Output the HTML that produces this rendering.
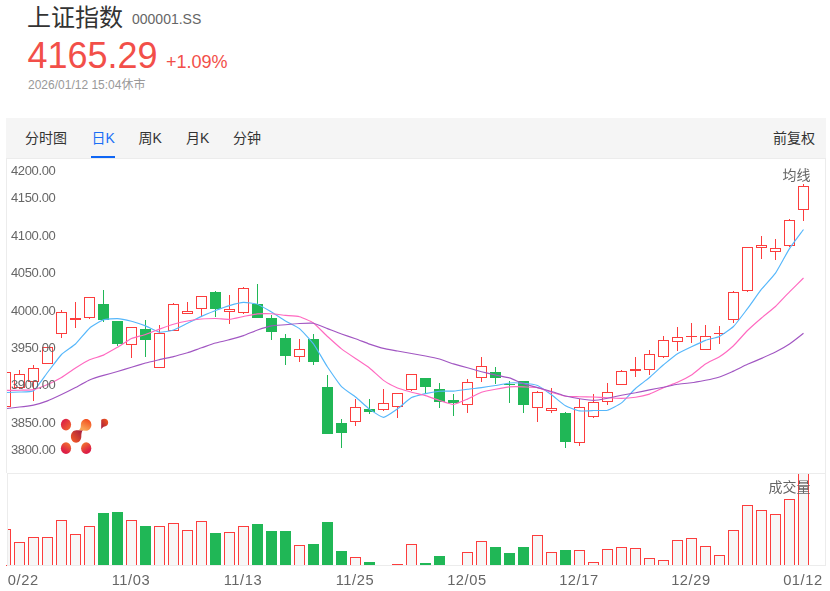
<!DOCTYPE html>
<html lang="zh-CN">
<head>
<meta charset="utf-8">
<title>上证指数 000001.SS</title>
<style>
html,body{margin:0;padding:0;background:#fff;}
body{width:830px;height:591px;position:relative;overflow:hidden;font-family:"Liberation Sans","Noto Sans CJK SC",sans-serif;color:#333;}
.abs{position:absolute;white-space:nowrap;line-height:1;}
.name{left:27px;top:6px;font-size:24px;color:#333;}
.code{left:132px;top:11.5px;font-size:14px;color:#666;}
.price{left:27.5px;top:38px;font-size:36px;color:#f24f49;}
.chg{left:166px;top:52.7px;font-size:18px;color:#f24f49;}
.time{left:28px;top:79px;font-size:12px;color:#999;}
.tabs{position:absolute;left:6px;top:118px;width:820px;height:40px;background:#f5f5f5;}
.tab{position:absolute;top:0;height:40px;line-height:40px;font-size:14px;color:#333;white-space:nowrap;}
.tab.on{color:#1a6ff5;}
.tab.on:after{content:"";position:absolute;left:-1px;right:0;bottom:0;height:2px;background:#0f66f5;}
svg{position:absolute;left:0;top:0;will-change:transform;}
svg text{font-family:"Liberation Sans","Noto Sans CJK SC",sans-serif;}
</style>
</head>
<body>
<div class="abs name">上证指数</div>
<div class="abs code">000001.SS</div>
<div class="abs price">4165.29</div>
<div class="abs chg">+1.09%</div>
<div class="abs time">2026/01/12 15:04休市</div>
<div class="tabs">
<span class="tab" style="left:19px">分时图</span>
<span class="tab on" style="left:85.5px">日K</span>
<span class="tab" style="left:132.5px">周K</span>
<span class="tab" style="left:180px">月K</span>
<span class="tab" style="left:227px">分钟</span>
<span class="tab" style="right:11px">前复权</span>
</div>
<svg width="830" height="591" viewBox="0 0 830 591">
<defs>
<clipPath id="ck"><rect x="7" y="159" width="819" height="314"/></clipPath>
<clipPath id="cv"><rect x="8" y="474" width="817" height="91"/></clipPath>
<clipPath id="cd"><rect x="8" y="566" width="822" height="25"/></clipPath>
<linearGradient id="g1" x1="0" y1="0" x2="1" y2="1"><stop offset="0.15" stop-color="#dd1f46"/><stop offset="1" stop-color="#f2702e"/></linearGradient>
<linearGradient id="g2" x1="0.75" y1="0" x2="0.2" y2="1"><stop offset="0" stop-color="#f2481c"/><stop offset="0.8" stop-color="#f9a254"/></linearGradient>
<linearGradient id="g3" x1="1" y1="0" x2="0.1" y2="0.9"><stop offset="0.1" stop-color="#a81e3c"/><stop offset="1" stop-color="#f25a26"/></linearGradient>
<linearGradient id="g4" x1="0.8" y1="0" x2="0.3" y2="1"><stop offset="0" stop-color="#f2742e"/><stop offset="0.8" stop-color="#dd1f46"/></linearGradient>
<linearGradient id="g5" x1="0.1" y1="0" x2="0.7" y2="1"><stop offset="0" stop-color="#f4802e"/><stop offset="0.8" stop-color="#dd1f46"/></linearGradient>
<linearGradient id="g6" x1="1" y1="0" x2="0" y2="1"><stop offset="0.1" stop-color="#f2561e"/><stop offset="0.9" stop-color="#a81e3c"/></linearGradient>
</defs>
<!-- frames -->
<path d="M6.5 158V473M6 158.5H826M825.5 158V566M7 473.5H826M7.5 473V566M7 565.5H826" stroke="#ececec" fill="none"/>
<!-- watermark -->
<g>
<ellipse cx="66" cy="424.6" rx="5.1" ry="5.8" fill="url(#g1)"/>
<path d="M70.9 436.6c0-3.500 2.200-6.400 5.400-6.400c2.800 0 4.600 0.300 6.700-0.100c-1.500 1.700-1.700 3.900-1.700 6.500c0 3.400-2.300 6.200-5.200 6.200s-5.200-2.800-5.200-6.200z" fill="url(#g3)"/>
<path d="M91.4 424.8c0 3.300-2.300 6-5.300 6c-2.800 0-5.200-0.600-7.600-0.400c2-1.300 2.400-3.200 2.400-5.600c0-3.300 2.300-5.900 5.200-5.900s5.300 2.600 5.300 5.900z" fill="url(#g2)"/>
<ellipse cx="66" cy="448.2" rx="5.1" ry="5.9" fill="url(#g4)"/>
<ellipse cx="86.2" cy="448.2" rx="5.1" ry="5.9" fill="url(#g5)"/>
<path d="M101.2 419.800c0.900-0.600 2.100-1 3.300-1c2.100 0 3.700 1.700 3.700 3.800s-1.500 3.700-3.500 3.800c-1.500 0.100-2.500 1.300-3.500 2.900z" fill="url(#g6)"/>
</g>
<g clip-path="url(#ck)" fill="none" stroke-width="1">
<rect x="0.5" y="372.5" width="10" height="34" fill="none" stroke="#fc3d3d" stroke-width="1"/>
<path d="M19.5 370V374M19.5 388V389" stroke="#fc3d3d" stroke-width="1"/>
<rect x="14.5" y="374.5" width="10" height="13" fill="none" stroke="#fc3d3d" stroke-width="1"/>
<path d="M33.5 365V368M33.5 382V401" stroke="#fc3d3d" stroke-width="1"/>
<rect x="28.5" y="368.5" width="10" height="13" fill="none" stroke="#fc3d3d" stroke-width="1"/>
<rect x="42.5" y="347.5" width="10" height="16" fill="none" stroke="#fc3d3d" stroke-width="1"/>
<path d="M61.5 310V312M61.5 334V338" stroke="#fc3d3d" stroke-width="1"/>
<rect x="56.5" y="312.5" width="10" height="21" fill="none" stroke="#fc3d3d" stroke-width="1"/>
<path d="M75.5 302V328" stroke="#fc3d3d" stroke-width="1"/>
<rect x="70" y="318" width="11" height="2" fill="#fc3d3d"/>
<path d="M89.5 318V319" stroke="#fc3d3d" stroke-width="1"/>
<rect x="84.5" y="297.5" width="10" height="20" fill="none" stroke="#fc3d3d" stroke-width="1"/>
<path d="M103.5 290V322" stroke="#20b756" stroke-width="1"/>
<rect x="98" y="304" width="11" height="16" fill="#20b756"/>
<path d="M117.5 321V346" stroke="#20b756" stroke-width="1"/>
<rect x="112" y="321" width="11" height="23" fill="#20b756"/>
<path d="M131.5 345V358" stroke="#fc3d3d" stroke-width="1"/>
<rect x="126.5" y="327.5" width="10" height="17" fill="none" stroke="#fc3d3d" stroke-width="1"/>
<path d="M145.5 320V357" stroke="#20b756" stroke-width="1"/>
<rect x="140" y="329" width="11" height="11" fill="#20b756"/>
<path d="M159.5 325V333" stroke="#fc3d3d" stroke-width="1"/>
<rect x="154.5" y="333.5" width="10" height="34" fill="none" stroke="#fc3d3d" stroke-width="1"/>
<path d="M173.5 303V304" stroke="#fc3d3d" stroke-width="1"/>
<rect x="168.5" y="304.5" width="10" height="26" fill="none" stroke="#fc3d3d" stroke-width="1"/>
<path d="M187.5 302V311" stroke="#fc3d3d" stroke-width="1"/>
<rect x="182.5" y="311.5" width="10" height="2" fill="none" stroke="#fc3d3d" stroke-width="1"/>
<path d="M201.5 309V316" stroke="#fc3d3d" stroke-width="1"/>
<rect x="196.5" y="296.5" width="10" height="12" fill="none" stroke="#fc3d3d" stroke-width="1"/>
<path d="M215.5 291V317" stroke="#20b756" stroke-width="1"/>
<rect x="210" y="292" width="11" height="17" fill="#20b756"/>
<path d="M229.5 295V309M229.5 312V324" stroke="#fc3d3d" stroke-width="1"/>
<rect x="224.5" y="309.5" width="10" height="2" fill="none" stroke="#fc3d3d" stroke-width="1"/>
<path d="M243.5 287V288M243.5 313V314" stroke="#fc3d3d" stroke-width="1"/>
<rect x="238.5" y="288.5" width="10" height="24" fill="none" stroke="#fc3d3d" stroke-width="1"/>
<path d="M257.5 284V318" stroke="#20b756" stroke-width="1"/>
<rect x="252" y="304" width="11" height="14" fill="#20b756"/>
<path d="M271.5 315V340" stroke="#20b756" stroke-width="1"/>
<rect x="266" y="318" width="11" height="14" fill="#20b756"/>
<path d="M285.5 334V365" stroke="#20b756" stroke-width="1"/>
<rect x="280" y="338" width="11" height="18" fill="#20b756"/>
<path d="M299.5 339V349M299.5 357V362" stroke="#fc3d3d" stroke-width="1"/>
<rect x="294.5" y="349.5" width="10" height="7" fill="none" stroke="#fc3d3d" stroke-width="1"/>
<path d="M313.5 334V365" stroke="#20b756" stroke-width="1"/>
<rect x="308" y="339" width="11" height="23" fill="#20b756"/>
<path d="M327.5 375V434" stroke="#20b756" stroke-width="1"/>
<rect x="322" y="387" width="11" height="47" fill="#20b756"/>
<path d="M341.5 419V448" stroke="#20b756" stroke-width="1"/>
<rect x="336" y="423" width="11" height="10" fill="#20b756"/>
<path d="M355.5 399V407M355.5 422V426" stroke="#fc3d3d" stroke-width="1"/>
<rect x="350.5" y="407.5" width="10" height="14" fill="none" stroke="#fc3d3d" stroke-width="1"/>
<path d="M369.5 399V414" stroke="#20b756" stroke-width="1"/>
<rect x="364" y="409" width="11" height="3" fill="#20b756"/>
<path d="M383.5 389V403M383.5 410V411" stroke="#fc3d3d" stroke-width="1"/>
<rect x="378.5" y="403.5" width="10" height="6" fill="none" stroke="#fc3d3d" stroke-width="1"/>
<path d="M397.5 407V418" stroke="#fc3d3d" stroke-width="1"/>
<rect x="392.5" y="393.5" width="10" height="13" fill="none" stroke="#fc3d3d" stroke-width="1"/>
<path d="M411.5 390V391" stroke="#fc3d3d" stroke-width="1"/>
<rect x="406.5" y="374.5" width="10" height="15" fill="none" stroke="#fc3d3d" stroke-width="1"/>
<path d="M425.5 378V394" stroke="#20b756" stroke-width="1"/>
<rect x="420" y="378" width="11" height="9" fill="#20b756"/>
<path d="M439.5 383V408" stroke="#20b756" stroke-width="1"/>
<rect x="434" y="389" width="11" height="13" fill="#20b756"/>
<path d="M453.5 394V416" stroke="#20b756" stroke-width="1"/>
<rect x="448" y="400" width="11" height="3" fill="#20b756"/>
<path d="M467.5 379V382M467.5 405V413" stroke="#fc3d3d" stroke-width="1"/>
<rect x="462.5" y="382.5" width="10" height="22" fill="none" stroke="#fc3d3d" stroke-width="1"/>
<path d="M481.5 357V366M481.5 378V382" stroke="#fc3d3d" stroke-width="1"/>
<rect x="476.5" y="366.5" width="10" height="11" fill="none" stroke="#fc3d3d" stroke-width="1"/>
<path d="M495.5 367V384" stroke="#20b756" stroke-width="1"/>
<rect x="490" y="372" width="11" height="6" fill="#20b756"/>
<path d="M509.5 381V403" stroke="#20b756" stroke-width="1"/>
<rect x="504" y="384" width="11" height="1" fill="#20b756"/>
<path d="M523.5 381V413" stroke="#20b756" stroke-width="1"/>
<rect x="518" y="381" width="11" height="24" fill="#20b756"/>
<path d="M537.5 391V392M537.5 408V422" stroke="#fc3d3d" stroke-width="1"/>
<rect x="532.5" y="392.5" width="10" height="15" fill="none" stroke="#fc3d3d" stroke-width="1"/>
<path d="M551.5 388V408M551.5 411V413" stroke="#fc3d3d" stroke-width="1"/>
<rect x="546.5" y="408.5" width="10" height="2" fill="none" stroke="#fc3d3d" stroke-width="1"/>
<path d="M565.5 412V448" stroke="#20b756" stroke-width="1"/>
<rect x="560" y="413" width="11" height="29" fill="#20b756"/>
<path d="M579.5 399V407M579.5 443V446" stroke="#fc3d3d" stroke-width="1"/>
<rect x="574.5" y="407.5" width="10" height="35" fill="none" stroke="#fc3d3d" stroke-width="1"/>
<path d="M593.5 394V402M593.5 417V418" stroke="#fc3d3d" stroke-width="1"/>
<rect x="588.5" y="402.5" width="10" height="14" fill="none" stroke="#fc3d3d" stroke-width="1"/>
<path d="M607.5 383V392M607.5 402V405" stroke="#fc3d3d" stroke-width="1"/>
<rect x="602.5" y="392.5" width="10" height="9" fill="none" stroke="#fc3d3d" stroke-width="1"/>
<path d="M621.5 370V371" stroke="#fc3d3d" stroke-width="1"/>
<rect x="616.5" y="371.5" width="10" height="13" fill="none" stroke="#fc3d3d" stroke-width="1"/>
<path d="M635.5 357V377" stroke="#fc3d3d" stroke-width="1"/>
<rect x="630" y="369" width="11" height="2" fill="#fc3d3d"/>
<path d="M649.5 350V354M649.5 370V375" stroke="#fc3d3d" stroke-width="1"/>
<rect x="644.5" y="354.5" width="10" height="15" fill="none" stroke="#fc3d3d" stroke-width="1"/>
<path d="M663.5 336V340M663.5 357V358" stroke="#fc3d3d" stroke-width="1"/>
<rect x="658.5" y="340.5" width="10" height="16" fill="none" stroke="#fc3d3d" stroke-width="1"/>
<path d="M677.5 327V337M677.5 342V351" stroke="#fc3d3d" stroke-width="1"/>
<rect x="672.5" y="337.5" width="10" height="4" fill="none" stroke="#fc3d3d" stroke-width="1"/>
<path d="M691.5 323V343" stroke="#fc3d3d" stroke-width="1"/>
<rect x="686" y="336" width="11" height="1" fill="#fc3d3d"/>
<path d="M705.5 325V336" stroke="#fc3d3d" stroke-width="1"/>
<rect x="700.5" y="336.5" width="10" height="13" fill="none" stroke="#fc3d3d" stroke-width="1"/>
<path d="M719.5 326V344" stroke="#fc3d3d" stroke-width="1"/>
<rect x="714" y="333" width="11" height="1" fill="#fc3d3d"/>
<path d="M733.5 291V292M733.5 320V323" stroke="#fc3d3d" stroke-width="1"/>
<rect x="728.5" y="292.5" width="10" height="27" fill="none" stroke="#fc3d3d" stroke-width="1"/>
<path d="M747.5 291V292" stroke="#fc3d3d" stroke-width="1"/>
<rect x="742.5" y="247.5" width="10" height="43" fill="none" stroke="#fc3d3d" stroke-width="1"/>
<path d="M761.5 236V245M761.5 248V259" stroke="#fc3d3d" stroke-width="1"/>
<rect x="756.5" y="245.5" width="10" height="2" fill="none" stroke="#fc3d3d" stroke-width="1"/>
<path d="M775.5 239V248M775.5 252V260" stroke="#fc3d3d" stroke-width="1"/>
<rect x="770.5" y="248.5" width="10" height="3" fill="none" stroke="#fc3d3d" stroke-width="1"/>
<path d="M789.5 219V220M789.5 246V247" stroke="#fc3d3d" stroke-width="1"/>
<rect x="784.5" y="220.5" width="10" height="25" fill="none" stroke="#fc3d3d" stroke-width="1"/>
<path d="M803.5 184V186M803.5 210V221" stroke="#fc3d3d" stroke-width="1"/>
<rect x="798.5" y="186.5" width="10" height="23" fill="none" stroke="#fc3d3d" stroke-width="1"/>
<path d="M7 392.5C7.9 392.5 17.6 392.1 19.5 392C21.4 391.9 31.4 392.2 33.5 390.8C35.6 389.4 45.4 375.2 47.5 372.5C49.6 369.8 59.4 356.6 61.5 354.5C63.6 352.4 73.4 345.9 75.5 344C77.6 342.1 87.4 330 89.5 328.2C91.6 326.4 101.4 320.5 103.5 319.8C105.6 319.1 115.4 318.5 117.5 318.6C119.6 318.7 129.4 320.7 131.5 321.2C133.6 321.7 143.4 325.1 145.5 325.9C147.6 326.7 157.4 331.9 159.5 332.2C161.6 332.5 171.4 330.7 173.5 330C175.6 329.3 185.4 324.2 187.5 323.2C189.6 322.2 199.4 317.3 201.5 316.4C203.6 315.5 213.4 311.3 215.5 310.5C217.6 309.7 227.4 306.2 229.5 305.6C231.6 305 241.4 302.5 243.5 302.4C245.6 302.3 255.4 303.5 257.5 304.2C259.6 304.9 269.4 310.8 271.5 312C273.6 313.2 283.4 319.8 285.5 321C287.6 322.2 297.4 326.9 299.5 328.6C301.6 330.3 311.4 341 313.5 343.8C315.6 346.6 325.4 363.9 327.5 367C329.6 370.1 339.4 384.4 341.5 386.6C343.6 388.8 353.4 395.4 355.5 397C357.6 398.6 367.4 407.6 369.5 409.1C371.6 410.6 381.4 417.3 383.5 417.3C385.6 417.3 395.4 410.2 397.5 408.8C399.6 407.4 409.4 398.7 411.5 397.6C413.6 396.5 423.4 394.1 425.5 393.6C427.6 393.1 437.4 391.4 439.5 391.2C441.6 391 451.4 391.2 453.5 391.1C455.6 391 465.4 389.6 467.5 389.3C469.6 389 479.4 387.9 481.5 387.6C483.6 387.3 493.4 385.8 495.5 385.5C497.6 385.2 507.4 383.2 509.5 383C511.6 382.8 521.4 383.1 523.5 383.3C525.6 383.5 535.4 384.7 537.5 385.5C539.6 386.3 549.4 393.3 551.5 394.8C553.6 396.3 563.4 404.6 565.5 405.8C567.6 407 577.4 410.6 579.5 410.9C581.6 411.2 591.4 410.6 593.5 410.5C595.6 410.4 605.4 410.8 607.5 410.2C609.6 409.6 619.4 404.5 621.5 402.9C623.6 401.3 633.4 390.4 635.5 388.5C637.6 386.6 647.4 379.2 649.5 377.5C651.6 375.8 661.4 366.5 663.5 364.8C665.6 363.1 675.4 355.1 677.5 353.8C679.6 352.5 689.4 347.8 691.5 346.8C693.6 345.8 703.4 341.2 705.5 340.4C707.6 339.6 717.4 337.4 719.5 336.4C721.6 335.4 731.4 328.5 733.5 326.5C735.6 324.5 745.4 311.4 747.5 308.7C749.6 306 759.4 291.8 761.5 289.2C763.6 286.6 773.4 276.1 775.5 273.1C777.6 270.1 787.4 251.8 789.5 248.6C791.6 245.4 802.5 230.9 803.5 229.5" fill="none" stroke="#56b7fb" stroke-width="1.15" stroke-linejoin="round"/>
<path d="M7 390.4C7.9 390.4 17.6 390.3 19.5 390.2C21.4 390.1 31.4 390 33.5 389.6C35.6 389.2 45.4 385.4 47.5 384.5C49.6 383.6 59.4 378.7 61.5 377.5C63.6 376.3 73.4 369.3 75.5 368C77.6 366.7 87.4 360.7 89.5 359.8C91.6 358.9 101.4 356 103.5 355.1C105.6 354.2 115.4 348.5 117.5 347.3C119.6 346.1 129.4 339.4 131.5 338.5C133.6 337.6 143.4 335.2 145.5 334.5C147.6 333.8 157.4 329.9 159.5 329.1C161.6 328.3 171.4 324.8 173.5 324.2C175.6 323.6 185.4 321.4 187.5 321C189.6 320.6 199.4 319.2 201.5 319C203.6 318.8 213.4 318.5 215.5 318.5C217.6 318.5 227.4 319.4 229.5 319.3C231.6 319.2 241.4 316.9 243.5 316.5C245.6 316.1 255.4 314.1 257.5 313.9C259.6 313.7 269.4 313.6 271.5 313.7C273.6 313.8 283.4 315.2 285.5 315.4C287.6 315.6 297.4 316.1 299.5 316.7C301.6 317.3 311.4 321.5 313.5 323C315.6 324.5 325.4 334.6 327.5 336.5C329.6 338.4 339.4 347.3 341.5 348.9C343.6 350.5 353.4 357.1 355.5 358.5C357.6 359.9 367.4 366.4 369.5 368C371.6 369.6 381.4 378.9 383.5 380.4C385.6 381.9 395.4 387.1 397.5 388C399.6 388.9 409.4 391.6 411.5 392.2C413.6 392.8 423.4 395 425.5 395.6C427.6 396.2 437.4 399.8 439.5 400.5C441.6 401.2 451.4 404.6 453.5 404.5C455.6 404.4 465.4 400 467.5 399.1C469.6 398.2 479.4 393 481.5 392.3C483.6 391.6 493.4 389.7 495.5 389.3C497.6 388.9 507.4 387.1 509.5 386.9C511.6 386.7 521.4 386.8 523.5 386.9C525.6 387 535.4 387.2 537.5 387.6C539.6 388 549.4 391.7 551.5 392.3C553.6 392.9 563.4 395.9 565.5 396.2C567.6 396.5 577.4 396.7 579.5 396.8C581.6 396.9 591.4 396.9 593.5 397C595.6 397.1 605.4 397.7 607.5 397.8C609.6 397.9 619.4 398.3 621.5 398.3C623.6 398.3 633.4 397.6 635.5 397.3C637.6 397 647.4 394.8 649.5 394.1C651.6 393.4 661.4 388.6 663.5 387.7C665.6 386.8 675.4 383.2 677.5 382.3C679.6 381.4 689.4 376.3 691.5 375C693.6 373.7 703.4 365.3 705.5 364C707.6 362.7 717.4 358 719.5 356.7C721.6 355.4 731.4 347.6 733.5 345.7C735.6 343.8 745.4 332.5 747.5 330.5C749.6 328.5 759.4 319.8 761.5 318C763.6 316.2 773.4 308.4 775.5 306.5C777.6 304.6 787.4 293.9 789.5 291.8C791.6 289.7 802.5 279 803.5 278" fill="none" stroke="#ff69c0" stroke-width="1.15" stroke-linejoin="round"/>
<path d="M7 408.5C7.9 408.4 17.6 407.2 19.5 407C21.4 406.8 31.4 405.5 33.5 405.1C35.6 404.7 45.4 401.7 47.5 400.9C49.6 400.1 59.4 395.5 61.5 394.5C63.6 393.5 73.4 388.6 75.5 387.5C77.6 386.4 87.4 380.9 89.5 380C91.6 379.1 101.4 376 103.5 375.4C105.6 374.8 115.4 372.1 117.5 371.5C119.6 370.9 129.4 367.9 131.5 367.3C133.6 366.7 143.4 363.6 145.5 363C147.6 362.4 157.4 360.1 159.5 359.6C161.6 359.1 171.4 357.1 173.5 356.6C175.6 356.1 185.4 353.4 187.5 352.8C189.6 352.2 199.4 348.5 201.5 347.8C203.6 347.1 213.4 343.6 215.5 343C217.6 342.4 227.4 340.1 229.5 339.6C231.6 339.1 241.4 336.3 243.5 335.6C245.6 334.9 255.4 330.7 257.5 330C259.6 329.3 269.4 326.3 271.5 325.9C273.6 325.5 283.4 324.9 285.5 324.7C287.6 324.5 297.4 323.6 299.5 323.5C301.6 323.4 311.4 322.9 313.5 323.3C315.6 323.7 325.4 327.8 327.5 328.6C329.6 329.4 339.4 333.3 341.5 334C343.6 334.7 353.4 338 355.5 338.7C357.6 339.4 367.4 343.4 369.5 344.1C371.6 344.8 381.4 347.9 383.5 348.4C385.6 348.9 395.4 350.6 397.5 351C399.6 351.4 409.4 353.1 411.5 353.5C413.6 353.9 423.4 355.6 425.5 356C427.6 356.4 437.4 358.4 439.5 359C441.6 359.6 451.4 363.3 453.5 363.9C455.6 364.5 465.4 367.2 467.5 367.8C469.6 368.4 479.4 371.2 481.5 371.7C483.6 372.2 493.4 374.5 495.5 375C497.6 375.5 507.4 377.3 509.5 377.9C511.6 378.5 521.4 383.1 523.5 383.8C525.6 384.5 535.4 387 537.5 387.6C539.6 388.2 549.4 390.9 551.5 391.5C553.6 392.1 563.4 395.5 565.5 396C567.6 396.5 577.4 398.4 579.5 398.7C581.6 399 591.4 400.4 593.5 400.4C595.6 400.4 605.4 398.6 607.5 398.2C609.6 397.8 619.4 395.7 621.5 395.3C623.6 394.9 633.4 393.2 635.5 392.8C637.6 392.4 647.4 390.3 649.5 389.9C651.6 389.5 661.4 387.6 663.5 387.2C665.6 386.8 675.4 384.6 677.5 384.3C679.6 384 689.4 383.1 691.5 382.8C693.6 382.5 703.4 380.7 705.5 380.3C707.6 379.9 717.4 377.7 719.5 377C721.6 376.3 731.4 372 733.5 371.1C735.6 370.2 745.4 365.2 747.5 364.3C749.6 363.4 759.4 359.3 761.5 358.4C763.6 357.5 773.4 353.2 775.5 352.1C777.6 351 787.4 345.4 789.5 344C791.6 342.6 802.5 334.1 803.5 333.3" fill="none" stroke="#a156c2" stroke-width="1.15" stroke-linejoin="round"/>
</g>
<rect x="6" y="565" width="1" height="1" fill="#fc3d3d"/>
<g clip-path="url(#cv)">
<rect x="0.5" y="529.5" width="10" height="38" fill="#f7f7f7" stroke="#fc3d3d" stroke-width="1"/>
<rect x="14.5" y="542.5" width="10" height="25" fill="#f7f7f7" stroke="#fc3d3d" stroke-width="1"/>
<rect x="28.5" y="537.5" width="10" height="30" fill="#f7f7f7" stroke="#fc3d3d" stroke-width="1"/>
<rect x="42.5" y="537.5" width="10" height="30" fill="#f7f7f7" stroke="#fc3d3d" stroke-width="1"/>
<rect x="56.5" y="520.5" width="10" height="47" fill="#f7f7f7" stroke="#fc3d3d" stroke-width="1"/>
<rect x="70.5" y="534.5" width="10" height="33" fill="#f7f7f7" stroke="#fc3d3d" stroke-width="1"/>
<rect x="84.5" y="526.5" width="10" height="41" fill="#f7f7f7" stroke="#fc3d3d" stroke-width="1"/>
<rect x="98" y="513" width="11" height="52" fill="#20b756"/>
<rect x="112" y="512" width="11" height="53" fill="#20b756"/>
<rect x="126.5" y="520.5" width="10" height="47" fill="#f7f7f7" stroke="#fc3d3d" stroke-width="1"/>
<rect x="140" y="526" width="11" height="39" fill="#20b756"/>
<rect x="154.5" y="526.5" width="10" height="41" fill="#f7f7f7" stroke="#fc3d3d" stroke-width="1"/>
<rect x="168.5" y="523.5" width="10" height="44" fill="#f7f7f7" stroke="#fc3d3d" stroke-width="1"/>
<rect x="182.5" y="530.5" width="10" height="37" fill="#f7f7f7" stroke="#fc3d3d" stroke-width="1"/>
<rect x="196.5" y="521.5" width="10" height="46" fill="#f7f7f7" stroke="#fc3d3d" stroke-width="1"/>
<rect x="210" y="533" width="11" height="32" fill="#20b756"/>
<rect x="224.5" y="532.5" width="10" height="35" fill="#f7f7f7" stroke="#fc3d3d" stroke-width="1"/>
<rect x="238.5" y="526.5" width="10" height="41" fill="#f7f7f7" stroke="#fc3d3d" stroke-width="1"/>
<rect x="252" y="524" width="11" height="41" fill="#20b756"/>
<rect x="266" y="531" width="11" height="34" fill="#20b756"/>
<rect x="280" y="531" width="11" height="34" fill="#20b756"/>
<rect x="294.5" y="545.5" width="10" height="22" fill="#f7f7f7" stroke="#fc3d3d" stroke-width="1"/>
<rect x="308" y="544" width="11" height="21" fill="#20b756"/>
<rect x="322" y="522" width="11" height="43" fill="#20b756"/>
<rect x="336" y="551" width="11" height="14" fill="#20b756"/>
<rect x="350.5" y="557.5" width="10" height="10" fill="#f7f7f7" stroke="#fc3d3d" stroke-width="1"/>
<rect x="364" y="562" width="11" height="3" fill="#20b756"/>
<rect x="392" y="564" width="11" height="1" fill="#fc3d3d"/>
<rect x="406.5" y="544.5" width="10" height="23" fill="#f7f7f7" stroke="#fc3d3d" stroke-width="1"/>
<rect x="420" y="563" width="11" height="2" fill="#20b756"/>
<rect x="434" y="556" width="11" height="9" fill="#20b756"/>
<rect x="462.5" y="552.5" width="10" height="15" fill="#f7f7f7" stroke="#fc3d3d" stroke-width="1"/>
<rect x="476.5" y="541.5" width="10" height="26" fill="#f7f7f7" stroke="#fc3d3d" stroke-width="1"/>
<rect x="490" y="547" width="11" height="18" fill="#20b756"/>
<rect x="504" y="553" width="11" height="12" fill="#20b756"/>
<rect x="518" y="547" width="11" height="18" fill="#20b756"/>
<rect x="532.5" y="535.5" width="10" height="32" fill="#f7f7f7" stroke="#fc3d3d" stroke-width="1"/>
<rect x="546.5" y="552.5" width="10" height="15" fill="#f7f7f7" stroke="#fc3d3d" stroke-width="1"/>
<rect x="560" y="550" width="11" height="15" fill="#20b756"/>
<rect x="574.5" y="550.5" width="10" height="17" fill="#f7f7f7" stroke="#fc3d3d" stroke-width="1"/>
<rect x="588.5" y="562.5" width="10" height="5" fill="#f7f7f7" stroke="#fc3d3d" stroke-width="1"/>
<rect x="602.5" y="549.5" width="10" height="18" fill="#f7f7f7" stroke="#fc3d3d" stroke-width="1"/>
<rect x="616.5" y="547.5" width="10" height="20" fill="#f7f7f7" stroke="#fc3d3d" stroke-width="1"/>
<rect x="630.5" y="548.5" width="10" height="19" fill="#f7f7f7" stroke="#fc3d3d" stroke-width="1"/>
<rect x="644.5" y="558.5" width="10" height="9" fill="#f7f7f7" stroke="#fc3d3d" stroke-width="1"/>
<rect x="658.5" y="560.5" width="10" height="7" fill="#f7f7f7" stroke="#fc3d3d" stroke-width="1"/>
<rect x="672.5" y="540.5" width="10" height="27" fill="#f7f7f7" stroke="#fc3d3d" stroke-width="1"/>
<rect x="686.5" y="538.5" width="10" height="29" fill="#f7f7f7" stroke="#fc3d3d" stroke-width="1"/>
<rect x="700.5" y="546.5" width="10" height="21" fill="#f7f7f7" stroke="#fc3d3d" stroke-width="1"/>
<rect x="714.5" y="555.5" width="10" height="12" fill="#f7f7f7" stroke="#fc3d3d" stroke-width="1"/>
<rect x="728.5" y="530.5" width="10" height="37" fill="#f7f7f7" stroke="#fc3d3d" stroke-width="1"/>
<rect x="742.5" y="505.5" width="10" height="62" fill="#f7f7f7" stroke="#fc3d3d" stroke-width="1"/>
<rect x="756.5" y="510.5" width="10" height="57" fill="#f7f7f7" stroke="#fc3d3d" stroke-width="1"/>
<rect x="770.5" y="514.5" width="10" height="53" fill="#f7f7f7" stroke="#fc3d3d" stroke-width="1"/>
<rect x="784.5" y="499.5" width="10" height="68" fill="#f7f7f7" stroke="#fc3d3d" stroke-width="1"/>
<rect x="798.5" y="460.5" width="10" height="107" fill="#f7f7f7" stroke="#fc3d3d" stroke-width="1"/>
</g>
<g font-size="13" fill="#666" letter-spacing="-0.35">
<text x="10.9" y="175.2">4200.00</text>
<text x="10.9" y="202">4150.00</text>
<text x="10.9" y="240.1">4100.00</text>
<text x="10.9" y="276.8">4050.00</text>
<text x="10.9" y="314.8">4000.00</text>
<text x="10.9" y="351.9">3950.00</text>
<text x="10.9" y="389.3">3900.00</text>
<text x="10.9" y="427.1">3850.00</text>
<text x="10.9" y="454.1">3800.00</text>
</g>
<g font-size="14" fill="#666">
<text x="782.5" y="179.6">均线</text>
<text x="768.5" y="492.3">成交量</text>
</g>
<g font-size="14.7" fill="#666" letter-spacing="0.55" clip-path="url(#cd)">
<text x="18.9" y="584.8" text-anchor="middle">10/22</text>
<text x="130.9" y="584.8" text-anchor="middle">11/03</text>
<text x="242.9" y="584.8" text-anchor="middle">11/13</text>
<text x="354.9" y="584.8" text-anchor="middle">11/25</text>
<text x="466.9" y="584.8" text-anchor="middle">12/05</text>
<text x="578.9" y="584.8" text-anchor="middle">12/17</text>
<text x="690.9" y="584.8" text-anchor="middle">12/29</text>
<text x="802.9" y="584.8" text-anchor="middle">01/12</text>
</g>
</svg>
</body>
</html>
